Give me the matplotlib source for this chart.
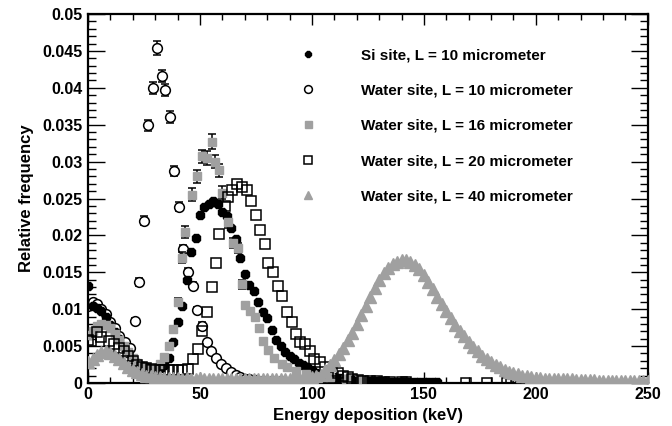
import numpy as np
import matplotlib
matplotlib.use('Agg')
import matplotlib.pyplot as plt
from matplotlib.ticker import MultipleLocator, FuncFormatter

plt.rcParams['font.family'] = ['Liberation Sans', 'DejaVu Sans']
plt.rcParams['font.weight'] = 'bold'

# Si site, L = 10 um
si_E = [0, 2, 4, 6, 8, 10, 12, 14, 16, 18,
        20, 22, 24, 26, 28, 30, 32, 34, 36, 38,
        40, 42, 44, 46, 48, 50, 52, 54, 56, 58,
        60, 62, 64, 66, 68, 70, 72, 74, 76, 78,
        80, 82, 84, 86, 88, 90, 92, 94, 96, 98,
        100, 102, 104, 106, 108, 110, 112, 114, 116, 118,
        120, 122, 124, 126, 128, 130, 132, 134, 136, 138,
        140, 142, 144, 146, 148, 150, 152, 154, 156]
si_f = [0.0132, 0.0105, 0.0102, 0.0097, 0.0089, 0.0079, 0.0069, 0.0059, 0.0049, 0.0040,
        0.0032, 0.0027, 0.0023, 0.0021, 0.0019, 0.0019, 0.0020, 0.0024, 0.0034, 0.0055,
        0.0082, 0.0104, 0.0140, 0.0178, 0.0197, 0.0228, 0.0238, 0.0242, 0.0246, 0.0242,
        0.0232, 0.0226, 0.0210, 0.0195, 0.0170, 0.0148, 0.0133, 0.0124, 0.0110, 0.0096,
        0.0088, 0.0072, 0.0058, 0.0050, 0.0042, 0.0036, 0.0032, 0.0027, 0.0024, 0.0021,
        0.0018, 0.0014, 0.0011, 0.0010, 0.0009, 0.0008, 0.0007, 0.0006, 0.0005, 0.0004,
        0.0003, 0.0003, 0.0002, 0.0002, 0.0002, 0.0002, 0.0002, 0.0001, 0.0001, 0.0001,
        0.0001, 0.0001, 0.0001, 0.0001, 0.0001, 0.0001, 0.0001, 0.0001, 0.0001]

# Water site, L = 10 um
w10_E = [0, 2, 4, 6, 8, 10, 12, 14, 16.5, 18.8,
         21, 22.8, 25, 26.8, 29, 30.8, 33, 34.4, 36.6, 38.4,
         40.6, 42.4, 44.6, 46.9, 48.7, 50.9, 53, 55, 57, 59.5,
         61.5, 64, 66, 68, 70, 72, 75, 78, 82, 86]
w10_f = [0.0104, 0.0110, 0.0107, 0.0100, 0.0094, 0.0083, 0.0074, 0.0064, 0.0055, 0.0048,
         0.0084, 0.0137, 0.0220, 0.0349, 0.0400, 0.0454, 0.0416, 0.0397, 0.0360, 0.0287,
         0.0239, 0.0182, 0.0151, 0.0132, 0.0099, 0.0077, 0.0055, 0.0044, 0.0034, 0.0026,
         0.0020, 0.0015, 0.0011, 0.0008, 0.0006, 0.0005, 0.0004, 0.0003, 0.0002, 0.0002]
w10_err = [0, 0, 0, 0, 0, 0, 0, 0, 0, 0,
           0.0004, 0.0005, 0.0006, 0.0008, 0.0008, 0.0009, 0.0008, 0.0008, 0.0008, 0.0007,
           0.0006, 0.0005, 0.0005, 0.0005, 0.0004, 0.0005, 0.0003, 0, 0, 0,
           0, 0, 0, 0, 0, 0, 0, 0, 0, 0]

# Water site, L = 16 um
w16_E = [0, 2, 4, 6, 8, 10, 12, 14, 16, 18,
         20, 22, 24, 26, 28, 30, 32, 34, 36, 38,
         40, 41.8, 43.5, 46.4, 48.6, 51, 53, 55.4, 56.7, 58.5,
         60, 62.5, 64.7, 67, 68.8, 70, 72.3, 74.5, 76.4, 78,
         80.4, 83, 86.6, 89, 93, 97.5, 103, 108, 115, 122]
w16_f = [0.0065, 0.0071, 0.0077, 0.0080, 0.0079, 0.0074, 0.0067, 0.0058, 0.0050, 0.0042,
         0.0034, 0.0027, 0.0022, 0.0018, 0.0017, 0.0019, 0.0026, 0.0035, 0.0050, 0.0073,
         0.0110, 0.0170, 0.0205, 0.0255, 0.0280, 0.0307, 0.0305, 0.0327, 0.0300, 0.0288,
         0.0258, 0.0218, 0.0190, 0.0183, 0.0134, 0.0106, 0.0097, 0.0090, 0.0075, 0.0057,
         0.0045, 0.0034, 0.0026, 0.0021, 0.0016, 0.0012, 0.0010, 0.0008, 0.0006, 0.0004]
w16_err = [0, 0, 0, 0, 0, 0, 0, 0, 0, 0,
           0, 0, 0, 0, 0, 0, 0, 0, 0, 0,
           0.0005, 0.0007, 0.0008, 0.0009, 0.0009, 0.0009, 0.0009, 0.0010, 0.0009, 0.0009,
           0.0009, 0.0008, 0.0007, 0.0007, 0.0006, 0, 0, 0, 0, 0,
           0, 0, 0, 0, 0, 0, 0, 0, 0, 0]

# Water site, L = 20 um
w20_E = [0, 1.3, 4, 6, 9.4, 11.6, 14, 16, 18, 20,
         22, 24, 26, 28, 30, 32, 34, 36, 38, 40,
         42, 44.6, 47, 49, 51, 53, 55.4, 57, 58.6, 61,
         62.5, 64.5, 66.5, 68.7, 71, 72.8, 75, 76.8, 79, 80.4,
         82.6, 84.8, 86.6, 88.8, 91, 92.9, 94.6, 96.9, 99, 101,
         103.5, 106, 109, 111.5, 114, 116, 118, 120.5, 123, 126,
         129, 132, 135, 140, 142, 169, 178, 187, 189, 191, 194, 203]
w20_f = [0.0058, 0.0057, 0.0069, 0.0062, 0.0057, 0.0053, 0.0048, 0.0043, 0.0036, 0.0030,
         0.0025, 0.0022, 0.0020, 0.0019, 0.0018, 0.0018, 0.0018, 0.0018, 0.0018, 0.0018,
         0.0018, 0.0019, 0.0032, 0.0046, 0.0070, 0.0096, 0.0130, 0.0163, 0.0202, 0.0240,
         0.0252, 0.0262, 0.0269, 0.0266, 0.0261, 0.0247, 0.0228, 0.0207, 0.0188, 0.0162,
         0.0150, 0.0131, 0.0118, 0.0096, 0.0082, 0.0067, 0.0056, 0.0053, 0.0043, 0.0033,
         0.0028, 0.0021, 0.0016, 0.0014, 0.0010, 0.0008, 0.0006, 0.0004, 0.0003, 0.0002,
         0.0002, 0.0001, 0.0001, 0.0001, 0.0001, 0.0, 0.0, 0.0, 0.0, 0.0, 0.0, 0.0]

# Water site, L = 40 um, 2 keV bins from 0 to 250 keV
w40_E = np.arange(0, 251, 2)
w40_f = [0.0028, 0.0033, 0.0038, 0.0042, 0.0043, 0.0041, 0.0037, 0.0032, 0.0027, 0.0022,
         0.0018, 0.0015, 0.0012, 0.0010, 0.0009, 0.0008, 0.0008, 0.0007, 0.0007, 0.0007,
         0.0007, 0.0006, 0.0007, 0.0006, 0.0006, 0.0007, 0.0006, 0.0006, 0.0006, 0.0006,
         0.0006, 0.0006, 0.0006, 0.0006, 0.0006, 0.0006, 0.0006, 0.0006, 0.0006, 0.0006,
         0.0006, 0.0006, 0.0006, 0.0006, 0.0006, 0.0006, 0.0007, 0.0007, 0.0007, 0.0008,
         0.0008, 0.0009, 0.0011, 0.0017, 0.0025, 0.0031, 0.0039, 0.0047, 0.0058, 0.0068,
         0.0080, 0.0092, 0.0104, 0.0117, 0.0129, 0.0140, 0.0149, 0.0156, 0.0161, 0.0164,
         0.0166, 0.0166, 0.0164, 0.0160, 0.0154, 0.0146, 0.0137, 0.0127, 0.0117, 0.0107,
         0.0097, 0.0088, 0.0079, 0.0071, 0.0063, 0.0055, 0.0049, 0.0043, 0.0037, 0.0032,
         0.0028, 0.0024, 0.0021, 0.0017, 0.0015, 0.0013, 0.0012, 0.0010, 0.0009, 0.0008,
         0.0007, 0.0007, 0.0006, 0.0006, 0.0006, 0.0005, 0.0005, 0.0005, 0.0005, 0.0004,
         0.0004, 0.0004, 0.0004, 0.0004, 0.0003, 0.0003, 0.0003, 0.0003, 0.0003, 0.0003,
         0.0003, 0.0002, 0.0002, 0.0002, 0.0002, 0.0002]

labels = ['Si site, L = 10 micrometer',
          'Water site, L = 10 micrometer',
          'Water site, L = 16 micrometer',
          'Water site, L = 20 micrometer',
          'Water site, L = 40 micrometer']

grey = '#a0a0a0'

fig = plt.figure(figsize=(6.72, 4.26), dpi=100)
ax = fig.add_axes([0.131, 0.101, 0.833, 0.866])

w10 = ax.errorbar(w10_E, w10_f, yerr=w10_err, fmt='o', ms=7, mfc='white', mec='black',
                  mew=1.1, ecolor='black', elinewidth=1.1, capsize=2.8, capthick=1.1, zorder=2)
si_line, = ax.plot(si_E, si_f, ls='none', marker='8', ms=6, color='black', zorder=3)
w16 = ax.errorbar(w16_E, w16_f, yerr=w16_err, fmt='s', ms=6.3, mfc=grey, mec=grey,
                  ecolor='black', elinewidth=1.1, capsize=2.8, capthick=1.1, zorder=4)
w20_line, = ax.plot(w20_E, w20_f, ls='none', marker='s', ms=7, mfc='none', mec='black',
                    mew=1.1, zorder=5)
w40_line, = ax.plot(w40_E, w40_f, ls='none', marker='^', ms=8, color=grey, mec=grey, zorder=6)

ax.set_xlim(0, 250)
ax.set_ylim(0, 0.05)
ax.xaxis.set_major_locator(MultipleLocator(50))
ax.xaxis.set_minor_locator(MultipleLocator(10))
ax.yaxis.set_major_locator(MultipleLocator(0.005))
ax.yaxis.set_minor_locator(MultipleLocator(0.001))
ax.yaxis.set_major_formatter(FuncFormatter(lambda v, p: '%g' % round(v, 4)))

ax.tick_params(axis='both', which='both', direction='in', top=True, right=True,
               width=1.0, labelsize=11.5)
ax.tick_params(axis='x', which='major', length=8, pad=3)
ax.tick_params(axis='x', which='minor', length=4)
ax.tick_params(axis='y', which='major', length=12, pad=4)
ax.tick_params(axis='y', which='minor', length=6)
for s in ax.spines.values():
    s.set_linewidth(1.6)

ax.set_xlabel('Energy deposition (keV)', fontsize=12, fontweight='bold', labelpad=4)
ax.set_ylabel('Relative frequency', fontsize=12, fontweight='bold', labelpad=6)

ax.legend([si_line, w10[0], w16[0], w20_line, w40_line], labels,
          loc='upper left', bbox_to_anchor=(293 / 672, 1 - 48 / 426),
          bbox_transform=fig.transFigure, frameon=False, numpoints=1, markerscale=0.8,
          fontsize=11, handlelength=2.0, handletextpad=2.45, labelspacing=1.4,
          borderpad=0, borderaxespad=0)

fig.savefig('out.png', dpi=100)
